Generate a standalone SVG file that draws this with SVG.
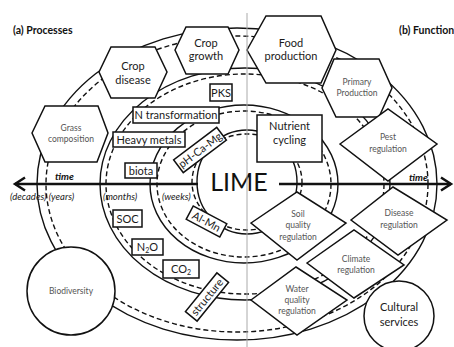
<svg xmlns="http://www.w3.org/2000/svg" width="454" height="347" viewBox="0 0 454 347">
<style>
.sol{fill:none;stroke:#111;stroke-width:1.4}
.das{fill:none;stroke:#111;stroke-width:1.4;stroke-dasharray:5 3}
.nd{fill:#fff;stroke:#111;stroke-width:1.5}
.t{font-family:Lato,"Liberation Sans",sans-serif;font-size:11px;fill:#1a1a1a;text-anchor:middle}
.g{font-family:Lato,"Liberation Sans",sans-serif;font-size:8.5px;fill:#555;text-anchor:middle}
.tm{font-family:Lato,"Liberation Sans",sans-serif;font-size:9.5px;font-style:italic;fill:#222}
.ti{font-family:Lato,"Liberation Sans",sans-serif;font-size:10px;font-style:italic;font-weight:bold;fill:#111}
.h{font-family:Lato,"Liberation Sans",sans-serif;font-size:10.5px;font-weight:bold;fill:#111}
.ax{fill:none;stroke:#111;stroke-width:2.5}
</style>
<rect width="454" height="347" fill="#fff"/>
<g id="connectors">
<ellipse class="sol" cx="237" cy="184" rx="200" ry="156"/>
<ellipse class="das" cx="237" cy="184" rx="191" ry="148"/>
<ellipse class="sol" cx="245" cy="184" rx="145" ry="116"/>
<ellipse class="das" cx="245" cy="184" rx="139" ry="110"/>
<ellipse class="sol" cx="244" cy="184" rx="94" ry="79"/>
<ellipse class="das" cx="244" cy="184" rx="87" ry="73"/>
<ellipse class="sol" cx="247" cy="182" rx="50" ry="52"/>
<ellipse class="das" cx="247" cy="182" rx="55" ry="48"/>
<line class="ax" x1="15" y1="184" x2="198" y2="184"/>
<polyline class="ax" points="25,177.5 15,184 25,190.5"/>
<line class="ax" x1="279" y1="184" x2="451" y2="184"/>
<polyline class="ax" points="441,177.5 451,184 441,190.5"/>
</g>
<g id="crop-disease"><polygon class="nd" points="99,72 111,47 155,47 167,72 155,98 111,98"/><text class="t" x="133" y="70">Crop</text><text class="t" x="133" y="84">disease</text></g>
<g id="crop-growth"><polygon class="nd" points="175,50 186,27 228,27 239,50 228,74 186,74"/><text class="t" x="206" y="47">Crop</text><text class="t" x="206" y="60">growth</text></g>
<g id="food-production"><polygon class="nd" points="247,50 266,16 321,16 336,50 321,83 266,83"/><text class="t" x="291" y="47">Food</text><text class="t" x="291" y="60">production</text></g>
<g id="primary-production"><polygon class="nd" points="322,88 334,59 379,59 392,88 379,117 336,117"/><text class="g" x="357" y="85">Primary</text><text class="g" x="357" y="96">Production</text></g>
<g id="grass-composition"><polygon class="nd" points="32,133 45,106 98,106 108,133 97,162 45,162"/><text class="g" x="71" y="131">Grass</text><text class="g" x="71" y="142">composition</text></g>
<g id="pks"><rect class="nd" x="210" y="84" width="22" height="17"/><text class="t" x="221" y="97">PKS</text></g>
<g id="n-transformation"><rect class="nd" x="133" y="107" width="86" height="16"/><text class="t" x="176" y="119">N transformation</text></g>
<g id="heavy-metals"><rect class="nd" x="113" y="132" width="72" height="15"/><text class="t" x="149" y="144">Heavy metals</text></g>
<g id="biota"><rect class="nd" x="125" y="163" width="32" height="15"/><text class="t" x="141" y="175">biota</text></g>
<g id="soc"><rect class="nd" x="113" y="210" width="29" height="17"/><text class="t" x="127.5" y="223">SOC</text></g>
<g id="n2o"><rect class="nd" x="132" y="239" width="31" height="16"/><text class="t" x="147.5" y="251">N<tspan font-size="7" dy="2">2</tspan><tspan dy="-2">O</tspan></text></g>
<g id="co2"><rect class="nd" x="163" y="260" width="36" height="18"/><text class="t" x="181" y="273">CO<tspan font-size="7" dy="2">2</tspan></text></g>
<g id="ph-ca-mg" transform="translate(200,150) rotate(-37)"><rect class="nd" x="-27" y="-8" width="54" height="16"/><text class="t" x="0" y="4">pH-Ca-Mg</text></g>
<g id="al-mn" transform="translate(206.5,221.5) rotate(28)"><rect class="nd" x="-19" y="-7.5" width="38" height="15"/><text class="t" x="0" y="4">Al-Mn</text></g>
<g id="structure" transform="translate(207,297) rotate(-51)"><rect class="nd" x="-25" y="-7.5" width="50" height="15"/><text class="t" x="0" y="4">structure</text></g>
<g id="nutrient-cycling"><rect class="nd" x="257" y="115" width="65" height="47"/><text class="t" x="289.5" y="130">Nutrient</text><text class="t" x="289.5" y="144">cycling</text></g>
<g id="pest-regulation"><polygon class="nd" points="340,144 388,109 437,144 388,181"/><text class="g" x="388" y="140">Pest</text><text class="g" x="388" y="152">regulation</text></g>
<g id="soil-quality-regulation"><polygon class="nd" points="251,223 297,192 346,223 297,260"/><text class="g" x="298" y="217">Soil</text><text class="g" x="298" y="228">quality</text><text class="g" x="298" y="240">regulation</text></g>
<g id="disease-regulation"><polygon class="nd" points="351,220 393,187 447,220 398,255"/><text class="g" x="399" y="216">Disease</text><text class="g" x="399" y="228">regulation</text></g>
<g id="climate-regulation"><polygon class="nd" points="307,263 354,230 404,265 354,298"/><text class="g" x="356" y="262">Climate</text><text class="g" x="356" y="273">regulation</text></g>
<g id="water-quality-regulation"><polygon class="nd" points="251,300 296,267 347,300 297,335"/><text class="g" x="297" y="292">Water</text><text class="g" x="297" y="303">quality</text><text class="g" x="297" y="314">regulation</text></g>
<g id="biodiversity"><circle class="nd" cx="71" cy="291" r="44"/><text class="g" x="71" y="294">Biodiversity</text></g>
<g id="cultural-services"><circle class="nd" cx="399" cy="316" r="35"/><text class="t" x="399" y="311">Cultural</text><text class="t" x="399" y="326">services</text></g>
<g id="labels">
<text x="239" y="191" style="font-family:Lato,'Liberation Sans',sans-serif;font-size:25px;fill:#111;text-anchor:middle">LIME</text>
<text class="ti" x="55" y="180">time</text>
<text class="ti" x="409" y="181">time</text>
<text class="tm" x="10" y="200">(decades) (years)</text>
<text class="tm" x="103" y="200">(months)</text>
<text class="tm" x="162" y="200">(weeks)</text>
<text class="h" x="13" y="34">(a) Processes</text>
<text class="h" x="399" y="34">(b) Function</text>
</g>
<line x1="247" y1="13" x2="247" y2="347" stroke="#aaa" stroke-width="1"/>
</svg>
